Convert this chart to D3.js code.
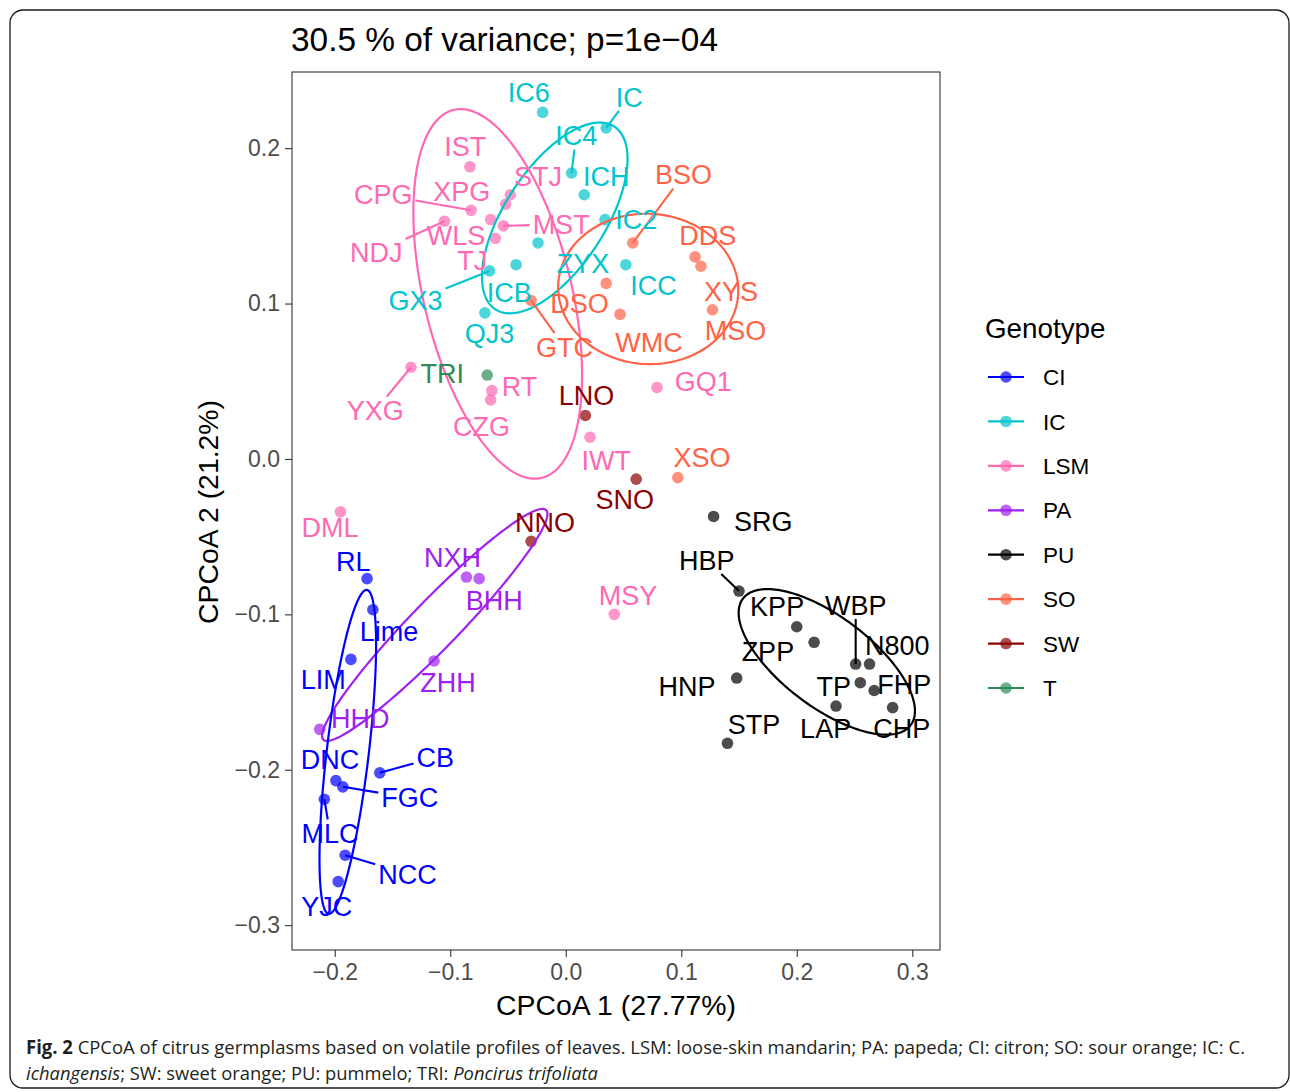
<!DOCTYPE html>
<html><head><meta charset="utf-8">
<script src="https://cdn.jsdelivr.net/npm/d3@7"></script>
<style>body{margin:0;background:#fff} svg{display:block}</style>
</head><body>
<svg id="chart" width="1290" height="1092"></svg>
<script>
// ---------------- data ----------------
const genotypes = ["CI","IC","LSM","PA","PU","SO","SW","T"];
const genotypeColors = ["#0000FF","#00C5CD","#FF69B4","#A020F0","#000000","#FF6347","#8B0000","#2E8B57"];

const names = [
  "RL","Lime","LIM","CB","DNC","FGC","MLC","NCC","YJC",
  "IC6","IC","IC4","ICH","IC2","ZYX","ICB","GX3","ICC","QJ3",
  "IST","CPG","NDJ","STJ","XPG","WLS","MST","TJ","YXG","RT","CZG","IWT","GQ1","MSY","DML",
  "NXH","BHH","ZHH","HHD",
  "SRG","HBP","KPP","ZPP","WBP","N800","TP","FHP","CHP","LAP","HNP","STP",
  "BSO","DDS","XYS","MSO","DSO","WMC","GTC","XSO",
  "LNO","SNO","NNO",
  "TRI"
];
const groups = [
  "CI","CI","CI","CI","CI","CI","CI","CI","CI",
  "IC","IC","IC","IC","IC","IC","IC","IC","IC","IC",
  "LSM","LSM","LSM","LSM","LSM","LSM","LSM","LSM","LSM","LSM","LSM","LSM","LSM","LSM","LSM",
  "PA","PA","PA","PA",
  "PU","PU","PU","PU","PU","PU","PU","PU","PU","PU","PU","PU",
  "SO","SO","SO","SO","SO","SO","SO","SO",
  "SW","SW","SW",
  "T"
];
const pc1 = [
  -0.172,-0.167,-0.186,-0.161,-0.199,-0.193,-0.209,-0.191,-0.197,
  -0.020,0.035,0.005,0.016,0.034,-0.024,-0.043,-0.066,0.052,-0.070,
  -0.083,-0.082,-0.105,-0.048,-0.052,-0.065,-0.054,-0.061,-0.134,-0.064,-0.065,0.021,0.079,0.042,-0.195,
  -0.086,-0.075,-0.114,-0.213,
  0.128,0.150,0.200,0.215,0.251,0.263,0.255,0.267,0.283,0.234,0.148,0.140,
  0.058,0.112,0.117,0.127,0.035,0.047,-0.030,0.097,
  0.017,0.061,-0.030,
  -0.068
];
const pc2 = [
  -0.077,-0.097,-0.129,-0.202,-0.207,-0.211,-0.219,-0.255,-0.272,
  0.223,0.213,0.184,0.170,0.154,0.139,0.125,0.121,0.125,0.094,
  0.188,0.160,0.153,0.170,0.164,0.154,0.150,0.142,0.059,0.044,0.038,0.014,0.046,-0.100,-0.034,
  -0.076,-0.077,-0.130,-0.174,
  -0.037,-0.085,-0.108,-0.118,-0.132,-0.132,-0.144,-0.149,-0.160,-0.159,-0.141,-0.183,
  0.139,0.130,0.124,0.096,0.113,0.093,0.102,-0.012,
  0.028,-0.013,-0.053,
  0.054
];
// label anchor positions (data units), as placed in the figure
const labelPc1 = [
  -0.184,-0.153,-0.210,-0.113,-0.204,-0.135,-0.204,-0.137,-0.207,
  -0.032,0.055,0.009,0.035,0.061,0.015,-0.049,-0.130,0.076,-0.066,
  -0.087,-0.158,-0.164,-0.024,-0.090,-0.095,-0.004,-0.081,-0.165,-0.040,-0.073,0.035,0.119,0.054,-0.204,
  -0.098,-0.062,-0.102,-0.178,
  0.171,0.122,0.183,0.175,0.251,0.287,0.232,0.293,0.291,0.225,0.105,0.163,
  0.102,0.123,0.143,0.147,0.012,0.072,-0.001,0.118,
  0.018,0.051,-0.018,
  -0.107
];
const labelPc2 = [
  -0.066,-0.111,-0.142,-0.192,-0.193,-0.218,-0.241,-0.267,-0.288,
  0.236,0.233,0.208,0.182,0.154,0.126,0.107,0.102,0.112,0.081,
  0.201,0.170,0.133,0.182,0.172,0.144,0.151,0.128,0.031,0.047,0.021,-0.001,0.050,-0.088,-0.044,
  -0.063,-0.091,-0.144,-0.167,
  -0.040,-0.065,-0.095,-0.124,-0.094,-0.120,-0.146,-0.145,-0.173,-0.173,-0.146,-0.171,
  0.183,0.144,0.108,0.083,0.100,0.075,0.072,0.001,
  0.041,-0.026,-0.041,
  0.055
];
const segmentLabels = ["IC","IC4","CPG","NDJ","MST","GX3","GTC","BSO","YXG","HBP","WBP","CB","FGC","MLC","NCC"];

// confidence ellipses: centre and two semi-axis vectors (data units)
const ellipseGroups = ["LSM","IC","SO","PA","CI","PU"];
const ellipseCx = [-0.0589, -0.0095, 0.0714, -0.1134, -0.1887, 0.2260];
const ellipseCy = [ 0.1062,  0.1551, 0.1094, -0.1068, -0.1885, -0.1306];
const ellipseAx = [ 0.0381,  0.0515, 0.0779,  0.0964,  0.0165,  0.0726];
const ellipseAy = [-0.1184,  0.0588,-0.0032,  0.0739,  0.1042, -0.0407];
const ellipseBx = [ 0.0623,  0.0363,-0.0035,  0.0149,  0.0181, -0.0235];
const ellipseBy = [ 0.0111, -0.0176,-0.0483, -0.0107, -0.0016, -0.0232];

const xTicks = [-0.2,-0.1,0.0,0.1,0.2,0.3];
const yTicks = [-0.3,-0.2,-0.1,0.0,0.1,0.2];
const titleText = "30.5 % of variance; p=1e\u221204";
const xTitle = "CPCoA 1 (27.77%)";
const yTitle = "CPCoA 2 (21.2%)";
const legendTitle = "Genotype";

// ---------------- drawing ----------------
const FONT = "'Liberation Sans', Arial, Helvetica, sans-serif";
const svg = d3.select("#chart");
const color = d3.scaleOrdinal().domain(genotypes).range(genotypeColors);

// outer frame
svg.append("rect").attr("x",10).attr("y",10).attr("width",1279).attr("height",1078)
  .attr("rx",13).attr("fill","#fff").attr("stroke","#1a1a1a").attr("stroke-width",1.3);

const P = {l:292, r:940, t:72, b:950};
const x = d3.scaleLinear().domain([-0.237,0.324]).range([P.l,P.r]);
const y = d3.scaleLinear().domain([-0.316,0.249]).range([P.b,P.t]);

// panel
svg.append("rect").attr("x",P.l).attr("y",P.t).attr("width",P.r-P.l).attr("height",P.b-P.t)
  .attr("fill","#fff");

// axes
const fmt = d3.format(".1f");
const gx = svg.append("g").attr("transform",`translate(0,${P.b})`)
  .call(d3.axisBottom(x).tickValues(xTicks).tickFormat(fmt).tickSize(7).tickPadding(7));
const gy = svg.append("g").attr("transform",`translate(${P.l},0)`)
  .call(d3.axisLeft(y).tickValues(yTicks).tickFormat(fmt).tickSize(7).tickPadding(5));
[gx,gy].forEach(g=>{
  g.select(".domain").remove();
  g.selectAll(".tick line").attr("stroke","#333").attr("stroke-width",1.1);
  g.selectAll(".tick text").attr("fill","#4D4D4D").style("font-family",FONT).style("font-size","23px");
});

const data = names.map((n,i)=>({name:n, group:groups[i], x:pc1[i], y:pc2[i], lx:labelPc1[i], ly:labelPc2[i]}));

const plot = svg.append("g");

// points
plot.selectAll("circle.pt").data(data).join("circle").attr("class","pt")
  .attr("cx",d=>x(d.x)).attr("cy",d=>y(d.y)).attr("r",5.8)
  .attr("fill",d=>color(d.group)).attr("fill-opacity",0.7);

// ellipses
const line = d3.line().x(d=>x(d[0])).y(d=>y(d[1]));
ellipseGroups.forEach((g,k)=>{
  const pts = d3.range(0,201).map(j=>{
    const t = j/200*2*Math.PI;
    return [ellipseCx[k]+Math.cos(t)*ellipseAx[k]+Math.sin(t)*ellipseBx[k],
            ellipseCy[k]+Math.cos(t)*ellipseAy[k]+Math.sin(t)*ellipseBy[k]];
  });
  plot.append("path").attr("d",line(pts)).attr("fill","none")
    .attr("stroke",color(g)).attr("stroke-width",2.2);
});

// labels
const segG = plot.append("g");
const labG = plot.append("g");
const labels = labG.selectAll("text").data(data).join("text")
  .attr("x",d=>x(d.lx)).attr("y",d=>y(d.ly)).attr("dy","0.36em")
  .attr("text-anchor","middle").attr("fill",d=>color(d.group))
  .style("font-family",FONT).style("font-size","27px").text(d=>d.name);

labels.each(function(d){
  if(!segmentLabels.includes(d.name)) return;
  const w = this.getComputedTextLength()/2 + 3, h = 14;
  const cx = x(d.lx), cy = y(d.ly), px = x(d.x), py = y(d.y);
  const dx = cx-px, dy = cy-py;
  const tx = dx!==0 ? (Math.abs(dx)-w)/Math.abs(dx) : -Infinity;
  const ty = dy!==0 ? (Math.abs(dy)-h)/Math.abs(dy) : -Infinity;
  const t = Math.max(tx,ty);
  if(t<=0) return;
  segG.append("line").attr("x1",px).attr("y1",py)
    .attr("x2",px+dx*t).attr("y2",py+dy*t)
    .attr("stroke",color(d.group)).attr("stroke-width",2.1);
});

// panel border
svg.append("rect").attr("x",P.l).attr("y",P.t).attr("width",P.r-P.l).attr("height",P.b-P.t)
  .attr("fill","none").attr("stroke","#333").attr("stroke-width",1.1);

// titles
svg.append("text").attr("x",291).attr("y",51).text(titleText)
  .style("font-family",FONT).style("font-size","33.4px").attr("fill","#000");
svg.append("text").attr("x",(P.l+P.r)/2).attr("y",1015).attr("text-anchor","middle").text(xTitle)
  .style("font-family",FONT).style("font-size","28.4px").attr("fill","#000");
svg.append("text").attr("transform",`translate(218,${(P.t+P.b)/2+1}) rotate(-90)`)
  .attr("text-anchor","middle").text(yTitle)
  .style("font-family",FONT).style("font-size","28.4px").attr("fill","#000");

// legend
const lg = svg.append("g");
lg.append("text").attr("x",985).attr("y",338).text(legendTitle)
  .style("font-family",FONT).style("font-size","27.8px").attr("fill","#000");
const ly = d3.scalePoint().domain(genotypes).range([377,688]);
genotypes.forEach(g=>{
  const yy = ly(g);
  lg.append("line").attr("x1",988).attr("x2",1024).attr("y1",yy).attr("y2",yy)
    .attr("stroke",color(g)).attr("stroke-width",2.2);
  lg.append("circle").attr("cx",1006).attr("cy",yy).attr("r",5.8)
    .attr("fill",color(g)).attr("fill-opacity",0.7);
  lg.append("text").attr("x",1043).attr("y",yy).attr("dy","0.36em").text(g)
    .style("font-family",FONT).style("font-size","22.5px").attr("fill","#000");
});

// caption
const CAP = "'Open Sans', 'Noto Sans', sans-serif";
const c1 = svg.append("text").attr("x",26).attr("y",1054)
  .attr("textLength",1219).attr("lengthAdjust","spacingAndGlyphs")
  .style("font-family",CAP).style("font-size","19px").attr("fill","#231F20");
c1.append("tspan").attr("font-weight","bold").text("Fig. 2");
c1.append("tspan").text(" CPCoA of citrus germplasms based on volatile profiles of leaves. LSM: loose-skin mandarin; PA: papeda; CI: citron; SO: sour orange; IC: C.");
const c2 = svg.append("text").attr("x",26).attr("y",1080)
  .attr("textLength",572).attr("lengthAdjust","spacingAndGlyphs")
  .style("font-family",CAP).style("font-size","19px").attr("fill","#231F20");
c2.append("tspan").attr("font-style","italic").text("ichangensis");
c2.append("tspan").text("; SW: sweet orange; PU: pummelo; TRI: ");
c2.append("tspan").attr("font-style","italic").text("Poncirus trifoliata");
</script>
</body></html>
